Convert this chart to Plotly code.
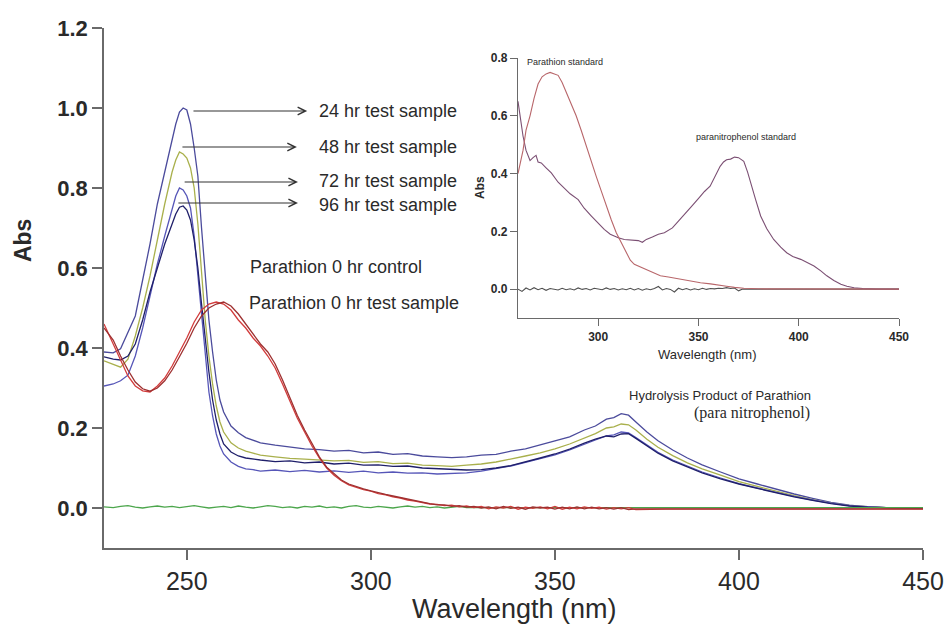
import plotly.graph_objects as go

# ---------------- main chart data ----------------
wl_main = [227.5, 230, 232, 234, 236, 238, 240, 242, 244, 246, 247, 248, 249, 250, 251, 252, 253, 254, 255, 256,
           257, 258, 259, 260, 262, 264, 266, 268, 270, 274, 278, 282, 286, 290, 294, 298, 302, 306, 310, 314,
           318, 322, 326, 330, 334, 338, 342, 346, 350, 354, 358, 361, 364, 366, 368, 370, 372, 375, 378, 382,
           386, 390, 395, 400, 405, 410, 415, 420, 425, 430, 435, 440, 445, 450]

abs_24hr = [0.390, 0.388, 0.398, 0.440, 0.480, 0.570, 0.660, 0.760, 0.840, 0.920, 0.960, 0.990, 1.000, 0.995, 0.960, 0.900, 0.830, 0.700, 0.580, 0.470,
            0.390, 0.320, 0.270, 0.240, 0.205, 0.188, 0.176, 0.170, 0.163, 0.157, 0.152, 0.148, 0.146, 0.142, 0.144, 0.138, 0.140, 0.134, 0.136, 0.130,
            0.128, 0.126, 0.128, 0.132, 0.134, 0.142, 0.148, 0.158, 0.168, 0.178, 0.195, 0.205, 0.222, 0.226, 0.236, 0.232, 0.215, 0.190, 0.168, 0.145,
            0.125, 0.108, 0.090, 0.073, 0.060, 0.047, 0.035, 0.024, 0.014, 0.007, 0.003, 0.001, 0.000, 0.000]

abs_48hr = [0.368, 0.358, 0.352, 0.372, 0.430, 0.500, 0.580, 0.670, 0.760, 0.840, 0.870, 0.890, 0.885, 0.875, 0.850, 0.800, 0.710, 0.590, 0.470, 0.380,
            0.310, 0.255, 0.215, 0.190, 0.163, 0.150, 0.142, 0.137, 0.132, 0.128, 0.124, 0.122, 0.120, 0.118, 0.119, 0.114, 0.116, 0.111, 0.112, 0.107,
            0.106, 0.104, 0.107, 0.110, 0.115, 0.122, 0.130, 0.138, 0.148, 0.160, 0.175, 0.186, 0.200, 0.203, 0.210, 0.208, 0.195, 0.172, 0.152, 0.131,
            0.113, 0.098, 0.082, 0.066, 0.054, 0.042, 0.031, 0.021, 0.012, 0.006, 0.003, 0.001, 0.000, 0.000]

abs_72hr = [0.305, 0.310, 0.318, 0.332, 0.380, 0.450, 0.530, 0.610, 0.680, 0.750, 0.780, 0.800, 0.795, 0.780, 0.750, 0.680, 0.580, 0.470, 0.370, 0.290,
            0.230, 0.185, 0.155, 0.135, 0.115, 0.104, 0.098, 0.096, 0.092, 0.095, 0.091, 0.094, 0.090, 0.093, 0.089, 0.092, 0.088, 0.090, 0.087, 0.088,
            0.085, 0.086, 0.088, 0.092, 0.098, 0.105, 0.114, 0.123, 0.133, 0.145, 0.160, 0.170, 0.180, 0.183, 0.190, 0.188, 0.176, 0.157, 0.139, 0.120,
            0.104, 0.090, 0.075, 0.061, 0.050, 0.039, 0.029, 0.020, 0.012, 0.006, 0.003, 0.001, 0.000, 0.000]

abs_96hr = [0.378, 0.372, 0.370, 0.380, 0.410, 0.470, 0.540, 0.600, 0.660, 0.710, 0.735, 0.752, 0.755, 0.745, 0.720, 0.670, 0.600, 0.510, 0.420, 0.340,
            0.270, 0.220, 0.185, 0.160, 0.140, 0.130, 0.125, 0.122, 0.120, 0.116, 0.118, 0.113, 0.115, 0.110, 0.112, 0.107, 0.108, 0.104, 0.105, 0.100,
            0.098, 0.097, 0.095, 0.096, 0.100, 0.106, 0.115, 0.125, 0.135, 0.147, 0.162, 0.172, 0.180, 0.178, 0.185, 0.186, 0.174, 0.155, 0.137, 0.118,
            0.102, 0.088, 0.073, 0.060, 0.049, 0.038, 0.028, 0.019, 0.011, 0.005, 0.002, 0.001, 0.000, 0.000]

wl_red = [227.5, 230, 232, 234, 236, 238, 240, 242, 244, 246, 248, 250, 252, 254, 256, 258, 260, 262, 264, 266,
          268, 270, 272, 274, 276, 278, 280, 282, 284, 286, 288, 290, 292, 294, 296, 298, 300, 302, 304, 306,
          308, 310, 312, 314, 316, 318, 320, 322, 324, 326, 328, 330, 332, 334, 336, 338, 340, 342, 344, 346,
          348, 350, 352, 354, 356, 358, 360, 362, 364, 366, 368, 370, 372, 380, 400, 420, 450]

abs_0hr_control = [0.460, 0.410, 0.370, 0.330, 0.305, 0.293, 0.290, 0.305, 0.325, 0.355, 0.390, 0.425, 0.465, 0.495, 0.510, 0.515, 0.510, 0.495, 0.470, 0.450,
                   0.425, 0.405, 0.380, 0.350, 0.310, 0.265, 0.225, 0.190, 0.155, 0.125, 0.100, 0.082, 0.068, 0.058, 0.052, 0.046, 0.042, 0.036, 0.033, 0.028,
                   0.025, 0.020, 0.017, 0.014, 0.010, 0.009, 0.006, 0.007, 0.003, 0.005, 0.001, 0.004, -0.002, 0.003, 0.000, 0.004, -0.003, 0.002, -0.001, 0.003,
                   -0.002, 0.004, -0.003, 0.002, -0.002, 0.003, -0.001, 0.002, -0.003, 0.001, -0.002, 0.001, -0.004, -0.003, -0.003, -0.003, -0.003]

abs_0hr_test = [0.450, 0.420, 0.380, 0.345, 0.315, 0.298, 0.292, 0.300, 0.318, 0.345, 0.378, 0.412, 0.450, 0.480, 0.500, 0.510, 0.515, 0.505, 0.485, 0.460,
                0.435, 0.410, 0.390, 0.360, 0.320, 0.275, 0.232, 0.195, 0.160, 0.128, 0.102, 0.085, 0.070, 0.060, 0.053, 0.048, 0.043, 0.038, 0.034, 0.030,
                0.026, 0.022, 0.018, 0.015, 0.011, 0.008, 0.008, 0.004, 0.006, 0.002, 0.004, 0.000, 0.003, -0.002, 0.004, -0.001, 0.002, -0.003, 0.003, 0.000,
                0.002, -0.003, 0.002, -0.002, 0.003, -0.002, 0.002, -0.002, 0.001, -0.003, 0.001, -0.004, -0.002, -0.002, -0.002, -0.002, -0.002]

wl_blank = [227.5, 230, 232, 234, 236, 238, 240, 242, 244, 246, 248, 250, 252, 254, 256, 258, 260, 262, 264, 266,
            268, 270, 272, 274, 276, 278, 280, 282, 284, 286, 288, 290, 292, 294, 296, 298, 300, 302, 304, 306,
            308, 310, 312, 314, 316, 318, 320, 322, 324, 326, 330, 450]
abs_blank = [0.003, 0.001, 0.004, 0.006, 0.002, 0.000, 0.003, 0.005, 0.002, 0.004, 0.001, 0.003, 0.006, 0.003, 0.000, 0.002, 0.004, 0.001, 0.005, 0.002,
             0.000, 0.003, 0.006, 0.004, 0.001, 0.003, 0.000, 0.004, 0.002, 0.005, 0.001, 0.003, 0.000, 0.004, 0.006, 0.002, 0.001, 0.004, 0.002, 0.000,
             0.003, 0.005, 0.002, 0.004, 0.001, 0.003, 0.000, 0.002, 0.004, 0.001, 0.001, 0.001]

x_ticks_main = [250, 300, 350, 400, 450]
y_ticks_main = [0.0, 0.2, 0.4, 0.6, 0.8, 1.0, 1.2]
y_ticktext_main = ["0.0", "0.2", "0.4", "0.6", "0.8", "1.0", "1.2"]

# ---------------- inset data ----------------
wl_parathion_std = [260, 262.5, 264, 266, 268, 270, 272, 274, 276, 278, 280, 282, 285, 287, 289, 291.5, 294, 296.5, 299, 301.5,
                    304, 306.5, 309, 311.5, 314, 316, 318, 321, 324, 327, 331, 335, 339, 343, 347, 351, 356, 360, 364, 368,
                    372.6, 380, 400, 450]
abs_parathion_std = [0.400, 0.480, 0.550, 0.600, 0.660, 0.710, 0.735, 0.745, 0.750, 0.745, 0.740, 0.715, 0.667, 0.635, 0.600, 0.550, 0.494, 0.440, 0.390, 0.340,
                     0.287, 0.240, 0.195, 0.160, 0.127, 0.100, 0.086, 0.077, 0.069, 0.058, 0.046, 0.042, 0.037, 0.030, 0.027, 0.022, 0.018, 0.013, 0.010, 0.006,
                     0.003, 0.001, 0.000, 0.000]

wl_pnp_std = [260, 261, 262.5, 264, 266, 267.5, 269, 270, 271.6, 274, 276.6, 280, 283, 286, 290, 293, 296.6, 300, 303, 306,
              310, 313, 317, 320, 322, 324, 327, 330, 333, 337, 340, 342, 344, 347, 350.8, 353, 355.8, 358, 360.8, 362.5,
              364, 366, 368, 370, 372.6, 374.5, 376, 378.5, 381, 384, 387.5, 391, 394, 397, 401, 404, 407.6, 411, 414, 417.5,
              421, 424, 427.6, 432, 439, 450]
abs_pnp_std = [0.650, 0.600, 0.530, 0.480, 0.445, 0.455, 0.463, 0.440, 0.437, 0.420, 0.402, 0.370, 0.350, 0.330, 0.310, 0.280, 0.253, 0.228, 0.207, 0.190,
               0.178, 0.172, 0.169, 0.168, 0.162, 0.172, 0.180, 0.190, 0.195, 0.212, 0.235, 0.250, 0.264, 0.290, 0.320, 0.338, 0.356, 0.385, 0.425, 0.440,
               0.448, 0.450, 0.457, 0.455, 0.442, 0.405, 0.367, 0.310, 0.253, 0.210, 0.172, 0.145, 0.126, 0.113, 0.103, 0.093, 0.080, 0.063, 0.046, 0.030,
               0.017, 0.010, 0.005, 0.002, 0.000, 0.000]

wl_inset_blank = [260, 262, 264, 266, 268, 270, 272, 274, 276, 278, 280, 282, 284, 286, 288, 290, 292, 294, 296, 298,
                  300, 302, 304, 306, 308, 310, 312, 314, 316, 318, 320, 322, 324, 326, 328, 330, 332, 334, 336, 338,
                  340, 342, 344, 346, 348, 350, 352, 354, 356, 358, 360, 362, 364, 366, 368, 370, 372, 450]
abs_inset_blank = [0.000, -0.008, 0.004, -0.003, 0.005, -0.002, 0.003, -0.004, 0.002, 0.000, -0.003, 0.003, -0.002, 0.001, -0.003, 0.004, -0.001, 0.002, -0.003, 0.003,
                   0.000, -0.002, 0.004, -0.001, 0.002, -0.003, 0.001, -0.002, 0.003, -0.003, 0.002, -0.004, 0.001, -0.002, 0.002, 0.009, -0.003, 0.002, -0.001, -0.010,
                   0.003, -0.002, 0.002, -0.003, 0.001, -0.002, 0.003, -0.001, 0.002, 0.001, 0.003, 0.002, 0.005, 0.002, 0.004, -0.006, 0.000, 0.000]

x_ticks_inset = [300, 350, 400, 450]
y_ticks_inset = [0.0, 0.2, 0.4, 0.6, 0.8]
y_ticktext_inset = ["0.0", "0.2", "0.4", "0.6", "0.8"]

# ---------------- styling ----------------
SANS = "Liberation Sans, Arial, sans-serif"
SERIF = "Liberation Serif, Times New Roman, serif"
AXC = "#6a6a6a"
TXT = "#2a2a2a"

fig = go.Figure()

main_series = [
    (wl_main, abs_24hr, "#4b4b9c", "24 hr test sample"),
    (wl_main, abs_48hr, "#a9b04c", "48 hr test sample"),
    (wl_main, abs_72hr, "#5656b8", "72 hr test sample"),
    (wl_main, abs_96hr, "#1f1f6a", "96 hr test sample"),
    (wl_blank, abs_blank, "#4ca64c", "blank"),
    (wl_red, abs_0hr_control, "#d23c3c", "Parathion 0 hr control"),
    (wl_red, abs_0hr_test, "#9e3030", "Parathion 0 hr test sample"),
]
for xs, ys, col, nm in main_series:
    fig.add_trace(go.Scatter(x=xs, y=ys, mode="lines", name=nm,
                             line=dict(color=col, width=1.3), xaxis="x", yaxis="y"))

inset_series = [
    (wl_inset_blank, abs_inset_blank, "#505050", "inset blank"),
    (wl_pnp_std, abs_pnp_std, "#7b4f73", "paranitrophenol standard"),
    (wl_parathion_std, abs_parathion_std, "#b8666a", "Parathion standard"),
]
for xs, ys, col, nm in inset_series:
    fig.add_trace(go.Scatter(x=xs, y=ys, mode="lines", name=nm,
                             line=dict(color=col, width=1.1), xaxis="x2", yaxis="y2"))

annotations = []
arrow_specs = [
    (251.4, 0.9925, 282.7, "24 hr test sample", 0.9925),
    (248.4, 0.9025, 279.9, "48 hr test sample", 0.9025),
    (249.0, 0.815, 280.2, "72 hr test sample", 0.8175),
    (247.3, 0.7625, 280.2, "96 hr test sample", 0.7575),
]
for tx, ty, hx, label, ly in arrow_specs:
    annotations.append(dict(x=hx, y=ty, ax=tx, ay=ty, xref="x", yref="y", axref="x", ayref="y",
                            text="", showarrow=True, arrowhead=5, arrowsize=1.4, arrowwidth=1.1,
                            arrowcolor="#333333", standoff=0, startstandoff=0))
    annotations.append(dict(x=285.4, y=ly, xref="x", yref="y", text=label, showarrow=False,
                            xanchor="left", yanchor="middle", font=dict(family=SANS, size=18, color=TXT)))

annotations += [
    dict(x=266.6, y=0.6025, xref="x", yref="y", text="Parathion 0 hr control", showarrow=False,
         xanchor="left", yanchor="middle", font=dict(family=SANS, size=18, color=TXT)),
    dict(x=266.4, y=0.5125, xref="x", yref="y", text="Parathion 0 hr test sample", showarrow=False,
         xanchor="left", yanchor="middle", font=dict(family=SANS, size=18, color=TXT)),
    dict(x=369.6, y=0.2825, xref="x", yref="y", text="Hydrolysis Product of Parathion", showarrow=False,
         xanchor="left", yanchor="middle", font=dict(family=SANS, size=13, color=TXT)),
    dict(x=419.9, y=0.2375, xref="x", yref="y", text="(para nitrophenol)", showarrow=False,
         xanchor="right", yanchor="middle", font=dict(family=SERIF, size=16, color=TXT)),
    dict(x=-0.099, y=0.592, xref="paper", yref="paper", text="Abs", textangle=-90, showarrow=False,
         xanchor="center", yanchor="middle", font=dict(family=SANS, size=23, color=TXT, weight="bold")),
    dict(x=0.5018, y=-0.118, xref="paper", yref="paper", text="Wavelength (nm)", showarrow=False,
         xanchor="center", yanchor="middle", font=dict(family=SANS, size=27, color=TXT)),
    dict(x=263.5, y=0.786, xref="x2", yref="y2", text="Parathion standard", showarrow=False,
         xanchor="left", yanchor="middle", font=dict(family=SANS, size=9, color=TXT)),
    dict(x=347.8, y=0.528, xref="x2", yref="y2", text="paranitrophenol standard", showarrow=False,
         xanchor="left", yanchor="middle", font=dict(family=SANS, size=9, color=TXT)),
    dict(x=0.4591, y=0.6923, xref="paper", yref="paper", text="Abs", textangle=-90, showarrow=False,
         xanchor="center", yanchor="middle", font=dict(family=SANS, size=12, color=TXT, weight="bold")),
    dict(x=0.7363, y=0.373, xref="paper", yref="paper", text="Wavelength (nm)", showarrow=False,
         xanchor="center", yanchor="middle", font=dict(family=SANS, size=13, color=TXT)),
]

fig.update_layout(
    width=946, height=628,
    margin=dict(l=104, r=23, t=28, b=80, autoexpand=False),
    paper_bgcolor="white", plot_bgcolor="white",
    showlegend=False,
    annotations=annotations,
    xaxis=dict(domain=[0, 1], range=[227.5, 450], tickvals=x_ticks_main, ticktext=[str(v) for v in x_ticks_main],
               showline=True, linecolor=AXC, linewidth=1.5, ticks="outside", ticklen=10, tickwidth=1.5,
               tickcolor=AXC, showgrid=False, zeroline=False, anchor="y", automargin=False,
               tickfont=dict(family=SANS, size=25, color=TXT)),
    yaxis=dict(domain=[0, 1], range=[-0.1, 1.2], tickvals=y_ticks_main, ticktext=y_ticktext_main,
               showline=True, linecolor=AXC, linewidth=1.5, ticks="outside", ticklen=10, tickwidth=1.5,
               tickcolor=AXC, showgrid=False, zeroline=False, anchor="x", automargin=False,
               tickfont=dict(family=SANS, size=22, color=TXT, weight="bold")),
    xaxis2=dict(domain=[0.5055, 0.9707], range=[260, 450], tickvals=x_ticks_inset,
                ticktext=[str(v) for v in x_ticks_inset],
                showline=True, linecolor=AXC, linewidth=1.2, ticks="outside", ticklen=7, tickwidth=1.2,
                tickcolor=AXC, showgrid=False, zeroline=False, anchor="y2", automargin=False,
                tickfont=dict(family=SANS, size=12, color=TXT, weight="bold")),
    yaxis2=dict(domain=[0.4423, 0.9423], range=[-0.1, 0.8], tickvals=y_ticks_inset, ticktext=y_ticktext_inset,
                showline=True, linecolor=AXC, linewidth=1.2, ticks="outside", ticklen=7, tickwidth=1.2,
                tickcolor=AXC, showgrid=False, zeroline=False, anchor="x2", automargin=False,
                tickfont=dict(family=SANS, size=12, color=TXT, weight="bold")),
)

fig.write_html("out.html", config={"displayModeBar": False},
               post_script="document.body.style.margin='0px';")
